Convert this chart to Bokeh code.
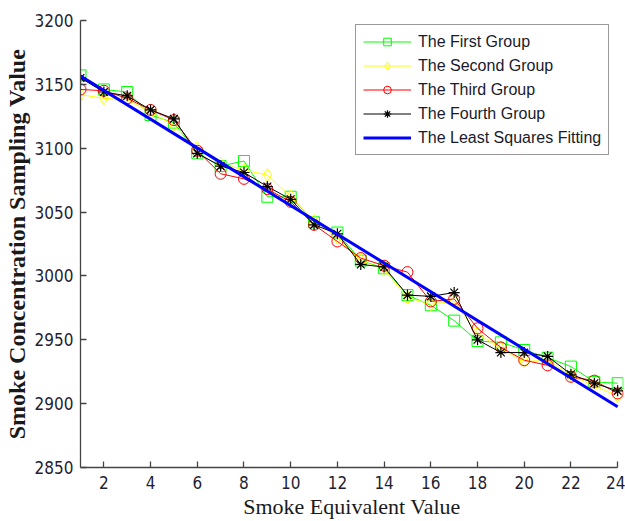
from bokeh.plotting import figure
from bokeh.models import Legend, LegendItem, FixedTicker, Range1d
from bokeh.embed import file_html
from bokeh.resources import INLINE

# ---- data ----
x_vals = list(range(1, 25))
group_first = [3157, 3146, 3144, 3126, 3120, 3096, 3086, 3090, 3062, 3062, 3042, 3034,
               3012, 3006, 2985, 2977, 2965, 2949, 2948, 2942, 2936, 2929, 2917, 2916]
group_second = [3142, 3139, 3138, 3128, 3118, 3100, 3088, 3083, 3079, 3062, 3043, 3030,
                3012, 3005, 2983, 2978, 2980, 2955, 2943, 2933, 2934, 2922, 2914, 2906]
group_third = [3146, 3145, 3139, 3130, 3122, 3098, 3080, 3076, 3068, 3058, 3040, 3027,
               3014, 3008, 3003, 2980, 2982, 2959, 2944, 2934, 2930, 2921, 2918, 2908]
group_fourth = [3155, 3144, 3141, 3130, 3123, 3096, 3086, 3081, 3070, 3060, 3040, 3033,
                3009, 3007, 2985, 2984, 2987, 2950, 2940, 2940, 2937, 2923, 2916, 2910]
fit_x = [1, 24]
fit_y = [3156.5, 2897.5]

x_ticks = [2, 4, 6, 8, 10, 12, 14, 16, 18, 20, 22, 24]
y_ticks = [2850, 2900, 2950, 3000, 3050, 3100, 3150, 3200]

series_names = ["The First Group", "The Second Group", "The Third Group",
                "The Fourth Group", "The Least Squares Fitting"]

# ---- figure ----
p = figure(width=625, height=521, output_backend="svg", toolbar_location=None,
           x_range=Range1d(1, 24.25), y_range=Range1d(2850, 3200),
           min_border_left=80, min_border_right=2, min_border_top=20,
           min_border_bottom=52)
p.outline_line_color = None
p.grid.visible = False
p.background_fill_color = "white"
p.border_fill_color = "white"

styles = [
    (group_first, "#00ff00", "square", 11),
    (group_second, "#ffff00", "diamond", 13),
    (group_third, "#ff0000", "circle", 11),
    (group_fourth, "#000000", "asterisk", 11),
]

items = []
for (ys, color, marker, size), name in zip(styles, series_names[:4]):
    lr = p.line(x_vals, ys, line_color=color, line_width=1)
    sr = p.scatter(x_vals, ys, marker=marker, size=size, line_color=color,
                   fill_color=None, line_width=1.2 if marker == "asterisk" else 1)
    items.append(LegendItem(label=name, renderers=[lr, sr]))

fr = p.line(fit_x, fit_y, line_color="#0000ff", line_width=3)
items.append(LegendItem(label=series_names[4], renderers=[fr]))

legend = Legend(items=items, location=(275, 312))
legend.margin = 0
legend.padding = 7
legend.spacing = 5
legend.label_height = 19
legend.glyph_height = 19
legend.glyph_width = 48
legend.label_standoff = 7
legend.label_text_font = "Liberation Sans"
legend.label_text_font_size = "16px"
legend.label_text_color = "#1a1a2a"
legend.border_line_color = "#333333"
legend.border_line_width = 1
legend.background_fill_color = "white"
legend.background_fill_alpha = 1
p.add_layout(legend)

# ---- axes ----
p.xaxis.ticker = FixedTicker(ticks=x_ticks)
p.yaxis.ticker = FixedTicker(ticks=y_ticks)
p.xaxis.axis_label = "Smoke Equivalent Value"
p.yaxis.axis_label = "Smoke Concentration Sampling Value"
for ax in (p.xaxis[0], p.yaxis[0]):
    ax.major_tick_in = 6
    ax.major_tick_out = 0
    ax.minor_tick_in = 0
    ax.minor_tick_out = 0
    ax.axis_line_color = "#444444"
    ax.axis_line_width = 1.3
    ax.major_tick_line_color = "#444444"
    ax.major_tick_line_width = 1.3
    ax.major_label_text_font = "Liberation Sans Narrow, DejaVu Sans Condensed, sans-serif"
    ax.major_label_text_font_size = "17px"
    ax.major_label_text_color = "#1f1f33"
    ax.major_label_standoff = 7
    ax.axis_label_text_font = "Liberation Serif"
    ax.axis_label_text_color = "#1a1a1a"

p.xaxis.bounds = (1, 24)
p.xaxis.axis_label_text_font_style = "normal"
p.xaxis.axis_label_text_font_size = "22px"
p.xaxis.axis_label_standoff = 2
p.xaxis.major_label_standoff = 8
p.yaxis.axis_label_text_font_style = "bold"
p.yaxis.axis_label_text_font_size = "24px"
p.yaxis.axis_label_standoff = 2

open("out.html", "w").write(file_html(p, INLINE))
